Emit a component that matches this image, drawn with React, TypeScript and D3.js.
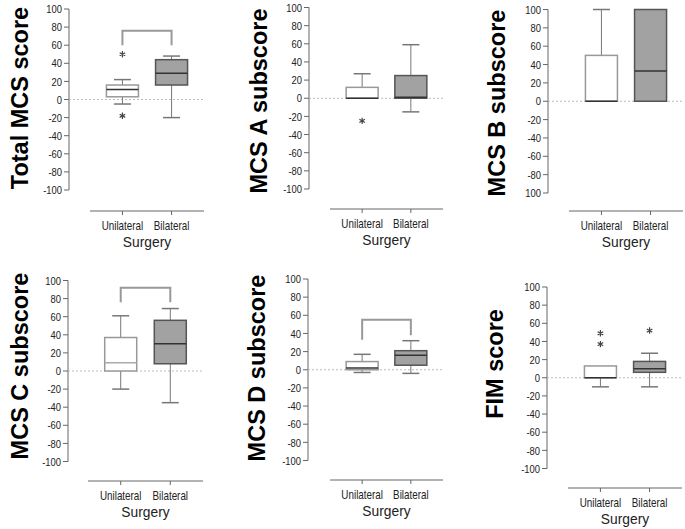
import React from "react";
import * as d3 from "d3";

const categories = ["Unilateral", "Bilateral"];
const yTicks = [100, 80, 60, 40, 20, 0, -20, -40, -60, -80, -100];
const panelTitles = ["Total MCS score", "MCS A subscore", "MCS B subscore", "MCS C subscore", "MCS D subscore", "FIM score"];
const xAxisTitle = "Surgery";

// [lo whisker, Q1, median, Q3, hi whisker] for [Unilateral, Bilateral]
const totalMCS = [[-5, 3, 11, 16, 22], [-20, 16, 29, 44, 48]];
const mcsA = [[0, 0, 0, 12, 27], [-15, 0, 1, 25, 59]];
const mcsB = [[0, 0, 0, 50, 100], [0, 0, 33, 100, 100]];
const mcsC = [[-20, 0, 9, 37, 61], [-35, 8, 30, 56, 69]];
const mcsD = [[-3, 0, 2, 9, 17], [-4, 5, 16, 21, 32]];
const fim = [[-10, 0, 0, 13, 0], [-10, 6, 10, 18, 27]];

const totalMCSOutliers = [[50, -18], []];
const mcsAOutliers = [[-25], []];
const mcsBOutliers = [[], []];
const mcsCOutliers = [[], []];
const mcsDOutliers = [[], []];
const fimOutliers = [[49, 37], [52]];

// bracket: [top, left leg end, right leg end]
const totalMCSBracket = [76, 60, 60];
const mcsCBracket = [92, 76, 76];
const mcsDBracket = [55, 33, 38];

const panelData = [totalMCS, mcsA, mcsB, mcsC, mcsD, fim];
const panelOutliers = [totalMCSOutliers, mcsAOutliers, mcsBOutliers, mcsCOutliers, mcsDOutliers, fimOutliers];
const panelBrackets = [totalMCSBracket, null, null, mcsCBracket, mcsDBracket, null];
const bottomTickLabelB = "100";

const layouts = [
  { axisX: 69, yTop: 9, yBot: 190, xAxisY: 211, xStart: 90, xEnd: 204, labelX: 28, labelY: 98 },
  { axisX: 309, yTop: 7.5, yBot: 189, xAxisY: 209, xStart: 330, xEnd: 443, labelX: 267, labelY: 101 },
  { axisX: 548, yTop: 9.5, yBot: 193, xAxisY: 211, xStart: 569, xEnd: 683, labelX: 505, labelY: 103 },
  { axisX: 68, yTop: 280.5, yBot: 461.5, xAxisY: 481, xStart: 88, xEnd: 203, labelX: 28, labelY: 366, lightMedian: true },
  { axisX: 308, yTop: 279, yBot: 460.5, xAxisY: 480, xStart: 330, xEnd: 443, labelX: 265, labelY: 368 },
  { axisX: 547, yTop: 287, yBot: 468.5, xAxisY: 488, xStart: 568, xEnd: 682, labelX: 503, labelY: 364 },
];

const sans = "'Liberation Sans', Arial, Helvetica, sans-serif";
const axisColor = "#666";
const whiskerColor = "#777";
const boxW = 32;
const capW = 17;

function Panel({ idx }: { idx: number }) {
  const L = layouts[idx];
  const data = panelData[idx];
  const outs = panelOutliers[idx];
  const br = panelBrackets[idx];
  const y = d3.scaleLinear().domain([-100, 100]).range([L.yBot, L.yTop]);
  const x = d3.scalePoint<string>().domain(categories).range([L.xStart, L.xEnd]).padding(0.66);
  const star = d3.symbol().type(d3.symbolAsterisk).size(28)() as string;

  return (
    <g>
      <line x1={L.axisX} x2={L.axisX} y1={y(100)} y2={y(-100)} stroke={axisColor} strokeWidth={1} />
      {yTicks.map((t) => (
        <g key={t}>
          <line x1={L.axisX - 5} x2={L.axisX} y1={y(t)} y2={y(t)} stroke={axisColor} strokeWidth={1} />
          <text
            transform={`translate(${L.axisX - 7},${y(t)}) scale(0.82,1)`}
            dy="0.36em"
            textAnchor="end"
            fontFamily={sans}
            fontSize={11.5}
            fill="#222"
          >
            {idx === 2 && t === -100 ? bottomTickLabelB : t}
          </text>
        </g>
      ))}
      <line x1={L.axisX} x2={L.xEnd} y1={y(0)} y2={y(0)} stroke="#bbb" strokeWidth={1} strokeDasharray="2,2" />
      <line x1={L.xStart} x2={L.xEnd} y1={L.xAxisY} y2={L.xAxisY} stroke={axisColor} strokeWidth={1} />
      {categories.map((c) => (
        <g key={c}>
          <line x1={x(c)} x2={x(c)} y1={L.xAxisY} y2={L.xAxisY + 4} stroke={axisColor} />
          <text
            transform={`translate(${x(c)},${L.xAxisY + 19}) scale(0.82,1)`}
            textAnchor="middle"
            fontFamily={sans}
            fontSize={12}
            fill="#222"
          >
            {c}
          </text>
        </g>
      ))}
      <text
        transform={`translate(${(L.xStart + L.xEnd) / 2},${L.xAxisY + 35.5}) scale(0.92,1)`}
        textAnchor="middle"
        fontFamily={sans}
        fontSize={15}
        fill="#222"
      >
        {xAxisTitle}
      </text>
      <text
        transform={`translate(${L.labelX},${L.labelY}) rotate(-90)`}
        textAnchor="middle"
        fontFamily={sans}
        fontWeight="bold"
        fontSize={23.5}
        fill="#000"
      >
        {panelTitles[idx]}
      </text>
      {br && (
        <path
          d={`M${x(categories[0])},${y(br[1])}V${y(br[0])}H${x(categories[1])}V${y(br[2])}`}
          fill="none"
          stroke="#999"
          strokeWidth={2}
        />
      )}
      {categories.map((c, gi) => {
        const [lo, q1, med, q3, hi] = data[gi];
        const cx = x(c) as number;
        const uni = gi === 0;
        const outline = uni ? "#999" : "#555";
        const fill = uni ? "#fff" : "#a2a2a2";
        const medColor = uni && (L as any).lightMedian ? "#aaa" : "#333";
        return (
          <g key={c}>
            {hi > q3 && (
              <>
                <line x1={cx} x2={cx} y1={y(q3)} y2={y(hi)} stroke={whiskerColor} />
                <line x1={cx - capW / 2} x2={cx + capW / 2} y1={y(hi)} y2={y(hi)} stroke={whiskerColor} strokeWidth={1.5} />
              </>
            )}
            {lo < q1 && (
              <>
                <line x1={cx} x2={cx} y1={y(q1)} y2={y(lo)} stroke={whiskerColor} />
                <line x1={cx - capW / 2} x2={cx + capW / 2} y1={y(lo)} y2={y(lo)} stroke={whiskerColor} strokeWidth={1.5} />
              </>
            )}
            <rect x={cx - boxW / 2} y={y(q3)} width={boxW} height={Math.max(0.5, y(q1) - y(q3))} fill={fill} stroke={outline} strokeWidth={1.5} />
            <line x1={cx - boxW / 2} x2={cx + boxW / 2} y1={y(med)} y2={y(med)} stroke={medColor} strokeWidth={1.5} />
            {outs[gi].map((o, k) => (
              <path key={k} d={star} transform={`translate(${cx},${y(o)})`} fill="none" stroke="#444" strokeWidth={1.2} />
            ))}
          </g>
        );
      })}
    </g>
  );
}

export default function App() {
  return (
    <svg width={685} height={529} style={{ position: "absolute", left: 0, top: 0, background: "#fff" }}>
      <rect width={685} height={529} fill="#fff" />
      {panelTitles.map((_, i) => (
        <Panel key={i} idx={i} />
      ))}
    </svg>
  );
}
